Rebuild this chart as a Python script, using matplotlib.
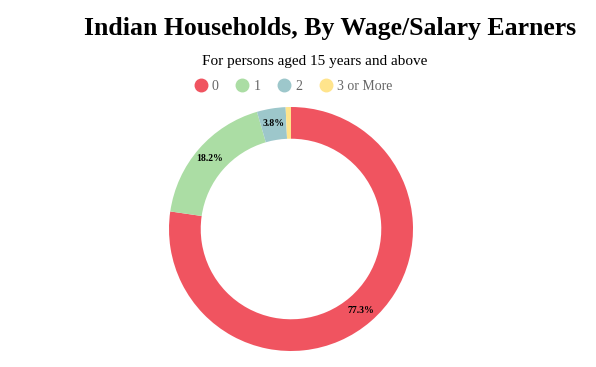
import matplotlib
matplotlib.use("Agg")
import matplotlib.pyplot as plt
from matplotlib.lines import Line2D

categories = ["0", "1", "2", "3 or More"]
values = [77.3, 18.2, 3.8, 0.7]
colors = ["#F05460", "#ABDDA4", "#9DC7CB", "#FFE48C"]

plt.rcParams['font.family'] = ['Liberation Serif', 'DejaVu Serif']

W, H = 596, 367
fig = plt.figure(figsize=(W / 100, H / 100), dpi=100)
cx, cy, r = 291, 229, 122
ax = fig.add_axes([(cx - r) / W, (H - cy - r) / H, 2 * r / W, 2 * r / H])

def fmt(p):
    return f"{p:.1f}%" if p >= 2 else ""

wedges, texts, autotexts = ax.pie(
    values, colors=colors, startangle=90, counterclock=False,
    radius=1, wedgeprops=dict(width=0.26, linewidth=0),
    autopct=fmt, pctdistance=0.88,
    textprops=dict(fontsize=7, color="black", fontweight="bold"))
ax.set_xlim(-1, 1)
ax.set_ylim(-1, 1)
ax.set_aspect("equal")
ax.axis("off")

fig.text(330 / W, 1 - 28 / H, "Indian Households, By Wage/Salary Earners",
         ha="center", va="center", fontsize=18.5, fontweight="bold")
fig.text(315 / W, 1 - 61 / H, "For persons aged 15 years and above",
         ha="center", va="center", fontsize=11)

handles = [Line2D([0], [0], marker="o", linestyle="", markersize=9,
                  markerfacecolor=c, markeredgecolor=c) for c in colors]
leg = fig.legend(handles, categories, loc="center", ncol=4,
                 bbox_to_anchor=(291 / W, 1 - 86 / H), frameon=False,
                 fontsize=10, handletextpad=0.0, columnspacing=0.9,
                 handlelength=1.6, labelcolor="#666666")

fig.savefig("out.png", dpi=100)
